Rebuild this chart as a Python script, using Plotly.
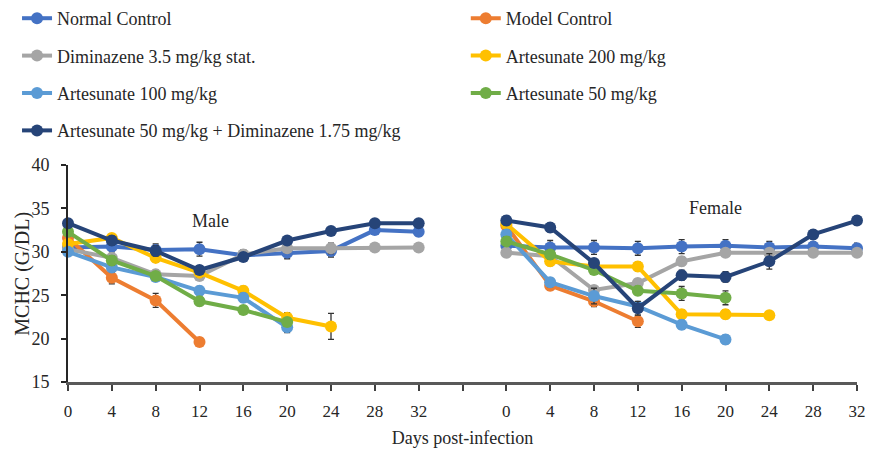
import plotly.graph_objects as go

# ---------------- data ----------------
days = [0, 4, 8, 12, 16, 20, 24, 28, 32]
tick_labels = ["0", "4", "8", "12", "16", "20", "24", "28", "32"]

series_names = [
    "Normal Control",
    "Model Control",
    "Diminazene 3.5 mg/kg stat.",
    "Artesunate 200 mg/kg",
    "Artesunate 100 mg/kg",
    "Artesunate 50 mg/kg",
    "Artesunate 50 mg/kg + Diminazene 1.75 mg/kg",
]
colors = ["#4472C4", "#ED7D31", "#A5A5A5", "#FFC000", "#5B9BD5", "#70AD47", "#264478"]

# Male MCHC (g/dL)
male_normal = [30.5, 30.6, 30.2, 30.3, 29.6, 29.9, 30.1, 32.5, 32.3]
male_model = [31.6, 27.0, 24.4, 19.6]
male_dimin = [30.3, 29.3, 27.4, 27.2, 29.7, 30.4, 30.4, 30.5, 30.5]
male_art200 = [30.9, 31.6, 29.3, 27.6, 25.5, 22.4, 21.4]
male_art100 = [30.0, 28.2, 27.1, 25.5, 24.7, 21.3]
male_art50 = [32.3, 29.0, 27.2, 24.3, 23.3, 21.9]
male_combo = [33.3, 31.3, 30.1, 27.9, 29.4, 31.3, 32.4, 33.3, 33.3]

male_normal_err = [0.5, 0.6, 0.7, 0.8, 0.6, 0.7, 0.7, 0.5, 0.5]
male_model_err = [0.5, 0.7, 0.8, 0.5]
male_dimin_err = [0.4, 0.5, 0.5, 0.5, 0.5, 0.5, 0.6, 0.4, 0.4]
male_art200_err = [0.5, 0.5, 0.5, 0.5, 0.5, 0.6, 1.5]
male_art100_err = [0.4, 0.5, 0.5, 0.5, 0.5, 0.6]
male_art50_err = [0.5, 0.5, 0.4, 0.5, 0.5, 0.5]
male_combo_err = [0.5, 0.5, 0.6, 0.5, 0.5, 0.4, 0.4, 0.4, 0.4]

# Female MCHC (g/dL)
female_normal = [30.7, 30.5, 30.5, 30.4, 30.6, 30.7, 30.5, 30.6, 30.4]
female_model = [33.0, 26.1, 24.3, 22.0]
female_dimin = [29.9, 29.5, 25.6, 26.4, 28.9, 29.9, 29.9, 29.9, 29.9]
female_art200 = [33.2, 28.9, 28.3, 28.3, 22.8, 22.8, 22.7]
female_art100 = [32.0, 26.5, 24.9, 23.7, 21.6, 19.9]
female_art50 = [31.2, 29.7, 27.9, 25.5, 25.2, 24.7]
female_combo = [33.6, 32.8, 28.7, 23.5, 27.3, 27.1, 28.9, 32.0, 33.6]

female_normal_err = [0.5, 0.8, 0.8, 0.8, 0.8, 0.7, 0.7, 0.5, 0.6]
female_model_err = [0.5, 0.5, 0.6, 0.7]
female_dimin_err = [0.4, 0.5, 0.5, 0.5, 0.5, 0.4, 0.4, 0.4, 0.4]
female_art200_err = [0.5, 0.5, 0.5, 0.5, 0.5, 0.5, 0.4]
female_art100_err = [0.5, 0.5, 0.9, 0.5, 0.5, 0.5]
female_art50_err = [0.5, 0.5, 0.5, 0.5, 0.8, 0.8]
female_combo_err = [0.5, 0.5, 0.5, 0.8, 0.6, 0.6, 0.9, 0.5, 0.5]

male_values = [male_normal, male_model, male_dimin, male_art200, male_art100, male_art50, male_combo]
male_errors = [male_normal_err, male_model_err, male_dimin_err, male_art200_err, male_art100_err, male_art50_err, male_combo_err]
female_values = [female_normal, female_model, female_dimin, female_art200, female_art100, female_art50, female_combo]
female_errors = [female_normal_err, female_model_err, female_dimin_err, female_art200_err, female_art100_err, female_art50_err, female_combo_err]

# categorical layout: male block, one blank slot, female block
day_step = 4
female_offset = len(days) + 1

def male_pos(n):
    return [d / day_step for d in days[:n]]

def female_pos(n):
    return [female_offset + d / day_step for d in days[:n]]

FONT = "Liberation Serif, Times New Roman, serif"
TXT = "#262626"

fig = go.Figure()

left_col = [0, 2, 4, 6]

for i, name in enumerate(series_names):
    legend_id = "legend" if i in left_col else "legend2"
    err_style = dict(type="data", visible=True, color="#333333", thickness=1.3, width=3)
    fig.add_trace(go.Scatter(
        x=male_pos(len(male_values[i])), y=male_values[i],
        error_y=dict(array=male_errors[i], **err_style),
        mode="lines+markers", name=name,
        line=dict(color=colors[i], width=4),
        marker=dict(color=colors[i], size=12),
        legendgroup=name, legend=legend_id, cliponaxis=False,
    ))
    fig.add_trace(go.Scatter(
        x=female_pos(len(female_values[i])), y=female_values[i],
        error_y=dict(array=female_errors[i], **err_style),
        mode="lines+markers", name=name, showlegend=False,
        line=dict(color=colors[i], width=4),
        marker=dict(color=colors[i], size=12),
        legendgroup=name, legend=legend_id, cliponaxis=False,
    ))

tickvals = male_pos(len(days)) + [len(days)] + female_pos(len(days))
ticktext = tick_labels + [""] + tick_labels

fig.add_annotation(x=13 / day_step, y=33.5, text="Male", showarrow=False,
                   font=dict(family=FONT, size=18, color=TXT))
fig.add_annotation(x=female_offset + 19.1 / day_step, y=35.0, text="Female", showarrow=False,
                   font=dict(family=FONT, size=18, color=TXT))
# y-axis title
fig.add_annotation(xref="paper", yref="paper", x=-0.058, y=0.5, xanchor="center", yanchor="middle",
                   text="MCHC (G/DL)", textangle=-90, showarrow=False,
                   font=dict(family=FONT, size=20, color=TXT))

fig.update_layout(
    width=869, height=455,
    margin=dict(l=68, r=12, t=165, b=73, autoexpand=False),
    paper_bgcolor="white", plot_bgcolor="white",
    font=dict(family=FONT, size=17, color=TXT),
    legend=dict(
        orientation="v", xref="container", yref="container",
        x=0.0196, y=1.0, xanchor="left", yanchor="top",
        font=dict(family=FONT, size=18, color=TXT),
        tracegroupgap=11, bgcolor="rgba(0,0,0,0)",
    ),
    legend2=dict(
        orientation="v", xref="container", yref="container",
        x=0.536, y=1.0, xanchor="left", yanchor="top",
        font=dict(family=FONT, size=18, color=TXT),
        tracegroupgap=11, bgcolor="rgba(0,0,0,0)",
    ),
    xaxis=dict(
        range=[0, 2 * len(days)], tickmode="array", tickvals=tickvals, ticktext=ticktext,
        showgrid=False, zeroline=False, showline=True, linecolor="#595959", linewidth=2.5,
        ticks="outside", ticklen=6, tickcolor="#404040", tickwidth=1.5,
        ticklabelstandoff=6,
        tickfont=dict(family=FONT, size=17, color=TXT),
        title=dict(text="Days post-infection", standoff=12,
                   font=dict(family=FONT, size=18, color=TXT)),
    ),
    yaxis=dict(
        range=[15, 40], tickmode="array", tickvals=[15, 20, 25, 30, 35, 40],
        showgrid=False, zeroline=False, showline=True, linecolor=TXT, linewidth=2,
        ticks="outside", ticklen=5, tickcolor=TXT, tickwidth=1.5,
        ticklabelstandoff=8,
        tickfont=dict(family=FONT, size=18, color=TXT),
    ),
    showlegend=True,
)

fig.write_html("out.html")
